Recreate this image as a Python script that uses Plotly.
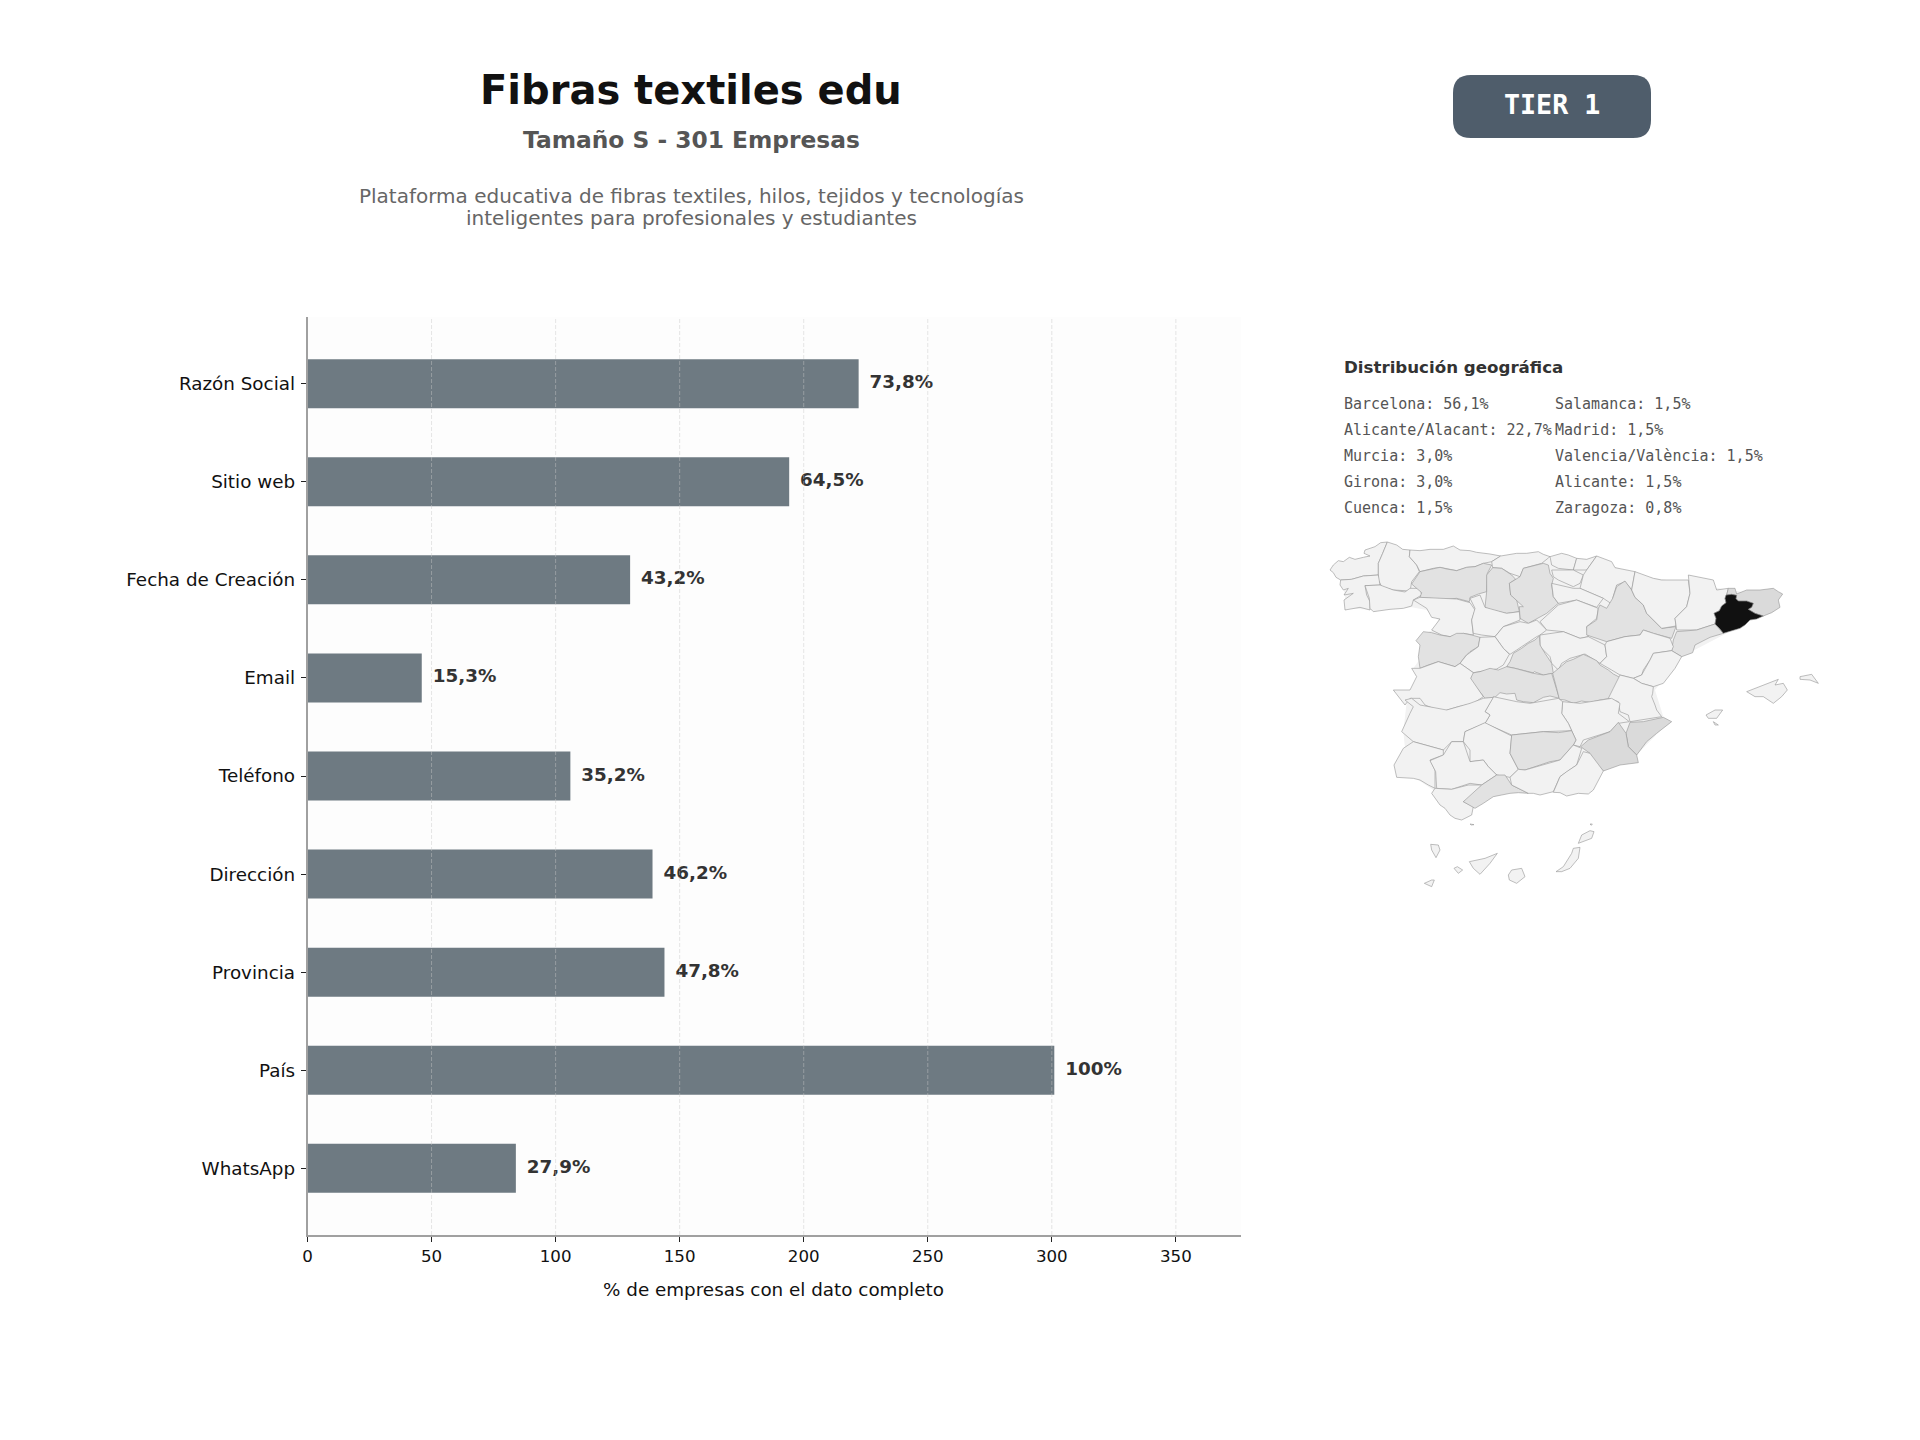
import plotly.graph_objects as go

# ---- Completeness data ----
TOTAL_COMPANIES = 301
fields = ["Razón Social", "Sitio web", "Fecha de Creación", "Email", "Teléfono",
          "Dirección", "Provincia", "País", "WhatsApp"]
completeness_pct = [73.8, 64.5, 43.2, 15.3, 35.2, 46.2, 47.8, 100, 27.9]
x_ticks = [0, 50, 100, 150, 200, 250, 300, 350]

# ---- Geographic distribution text ----
geo_left = ["Barcelona: 56,1%", "Alicante/Alacant: 22,7%", "Murcia: 3,0%", "Girona: 3,0%", "Cuenca: 1,5%"]
geo_right = ["Salamanca: 1,5%", "Madrid: 1,5%", "Valencia/València: 1,5%", "Alicante: 1,5%", "Zaragoza: 0,8%"]

# ---- Province outlines, digitised in four map sheets ----
# Each sheet has its own origin; three sheet units make one map unit.
sheet_origin = {"A": (1310, 520), "E": (1600, 520), "S": (1370, 690), "C": (1400, 620)}
LIGHT, MID, STRONG, DARK = "#f2f2f2", "#e2e2e2", "#dadada", "#111111"

# Flat silhouette of the peninsula that closes small gaps between provinces
mainland = [(240,85),(300,100),(570,115),(860,118),(975,165),(1135,190),(1390,230),(1385,265),(1240,345),(1115,410),
            (1035,510),(1060,590),(1075,607),(980,705),(880,753),(835,815),(655,812),(550,825),(495,860),(455,890),
            (395,848),(370,810),(310,770),(265,768),(258,735),(285,685),(280,635),(290,545),(270,515),(305,510),
            (325,470),(310,445),(335,410),(335,375),(345,340),(370,330),(385,300),(350,270),(305,262),(190,270),
            (110,265),(98,185),(70,150),(110,128)]

provinces = [
    ("A Coruña", "A", LIGHT, [(232,66),(212,68),(195,80),(165,90),(162,100),(180,108),(160,112),(135,118),(118,112),(100,125),(85,122),(70,135),(60,150),(70,158),(78,172),(92,180),(125,178),(160,168),(205,165),(205,130),(218,100)]),
    ("Lugo", "A", LIGHT, [(232,66),(260,75),(278,88),(300,90),(298,110),(320,135),(328,155),(305,185),(300,215),(285,212),(250,210),(215,200),(205,180),(205,130),(218,100)]),
    ("Pontevedra", "A", LIGHT, [(92,180),(125,178),(160,168),(205,165),(210,195),(165,197),(170,225),(180,245),(180,270),(150,262),(105,270),(102,240),(130,220),(102,225),(115,205),(100,210),(90,195)]),
    ("Ourense", "A", LIGHT, [(165,197),(210,195),(250,210),(285,216),(300,205),(330,205),(335,225),(310,240),(305,258),(280,265),(240,268),(190,275),(180,265),(178,235)]),
    ("Asturias", "A", LIGHT, [(300,90),(330,92),(360,88),(400,88),(430,78),(450,90),(480,92),(500,97),(540,102),(572,108),(545,125),(520,130),(495,140),(470,142),(440,152),(410,147),(390,142),(370,145),(350,150),(330,155),(320,135),(298,110)]),
    ("León", "A", MID, [(330,155),(350,150),(370,145),(390,142),(410,147),(440,152),(470,142),(495,140),(520,130),(545,135),(532,160),(530,190),(530,215),(505,222),(480,232),(478,245),(440,235),(400,238),(355,233),(330,232),(335,218),(320,205),(305,192)]),
    ("Cantabria", "A", LIGHT, [(572,108),(600,102),(620,100),(650,100),(685,95),(700,103),(720,110),(695,130),(640,145),(630,170),(600,160),(575,145),(548,143),(545,125)]),
    ("Palencia", "A", MID, [(548,143),(575,145),(605,165),(617,178),(598,190),(602,225),(620,240),(628,275),(590,280),(545,270),(525,262),(530,215),(530,165)]),
    ("Burgos", "A", MID, [(640,145),(700,130),(715,135),(720,160),(730,175),(725,195),(730,230),(745,250),(710,280),(670,300),(655,310),(630,295),(628,260),(640,260),(620,240),(602,225),(598,190),(617,178),(630,170)]),
    ("Bizkaia", "A", LIGHT, [(720,110),(740,103),(755,100),(775,105),(800,115),(790,150),(745,145),(725,135)]),
    ("Gipuzkoa", "A", LIGHT, [(800,115),(830,118),(860,108),(830,150),(790,150)]),
    ("Álava", "A", LIGHT, [(725,150),(790,150),(820,165),(810,190),(790,200),(745,180),(730,170)]),
    ("Navarra", "A", LIGHT, [(860,108),(905,125),(915,143),(975,155),(965,210),(945,185),(920,195),(908,235),(925,265),(880,235),(810,205),(820,165),(830,150)]),
    ("La Rioja", "A", LIGHT, [(725,190),(790,205),(810,205),(880,235),(860,262),(800,240),(745,250),(730,230)]),
    ("Zamora", "A", LIGHT, [(310,240),(350,265),(365,292),(390,297),(365,330),(395,345),(420,350),(460,340),(490,345),(485,300),(495,270),(480,248),(440,237),(390,235),(330,232)]),
    ("Valladolid", "A", LIGHT, [(480,235),(510,225),(525,262),(590,280),(628,275),(630,300),(580,320),(555,350),(515,345),(490,340),(485,300),(495,265)]),
    ("Segovia", "A", LIGHT, [(630,305),(655,310),(680,300),(710,330),(690,345),(680,350),(620,390),(600,403),(580,385),(555,350),(580,320)]),
    ("Soria", "A", LIGHT, [(690,305),(745,255),(800,240),(865,265),(860,295),(830,320),(835,350),(810,355),(760,335),(710,330)]),
    ("Salamanca", "A", MID, [(340,335),(365,338),(390,345),(420,350),(440,340),(460,340),(485,345),(510,352),(505,380),(480,395),(465,410),(450,430),(435,440),(410,432),(385,425),(355,435),(330,445),(325,410),(330,375),(318,362)]),
    ("Ávila", "A", LIGHT, [(510,352),(555,350),(580,385),(598,403),(580,435),(560,447),(490,458),(450,430),(470,405),(505,380)]),
    ("Guadalajara", "A", LIGHT, [(690,345),(760,335),(810,355),(835,350),(885,375),(890,410),(870,430),(825,402),(780,415),(755,430),(745,450),(725,430),(720,410),(690,380)]),
    ("Madrid", "C", MID, [(418,48),(420,75),(435,100),(455,130),(460,160),(430,165),(403,155),(375,182),(398,158),(345,145),(320,140),(330,125),(340,100),(365,85),(385,70),(405,60)]),
    ("Toledo", "C", MID, [(212,160),(240,155),(270,145),(295,150),(320,140),(345,145),(400,160),(430,165),(455,160),(465,195),(478,235),(450,228),(430,232),(400,248),(370,245),(350,240),(345,220),(320,222),(300,218),(285,232),(255,235),(235,210),(212,180)]),
    ("Cuenca", "C", MID, [(458,160),(470,150),(490,135),(500,125),(520,118),(550,103),(570,112),(590,122),(600,135),(625,150),(640,162),(665,175),(650,200),(632,235),(600,240),(570,247),(545,243),(520,250),(495,240),(478,238),(470,205)]),
    ("Cáceres", "A", LIGHT, [(305,445),(330,445),(385,425),(435,440),(450,430),(490,458),(482,475),(520,530),(490,550),(445,560),(395,575),(345,555),(330,535),(300,535),(285,555),(250,510),(300,510),(320,470)]),
    ("Zaragoza", "E", MID, [(0,255),(20,265),(38,235),(50,200),(75,183),(95,210),(105,232),(130,255),(140,280),(185,325),(228,320),(215,355),(160,340),(130,330),(120,345),(75,350),(20,365),(-40,345),(-40,320),(-10,300),(-5,265)]),
    ("Huesca", "E", LIGHT, [(105,155),(160,175),(185,180),(265,180),(270,220),(260,260),(225,295),(228,318),(185,325),(140,280),(130,255),(105,232),(95,210)]),
    ("Lleida", "E", LIGHT, [(265,165),(340,180),(350,210),(385,205),(380,225),(375,235),(378,248),(365,258),(358,272),(342,280),(348,295),(345,312),(290,330),(230,330),(225,295),(260,260),(270,220)]),
    ("Tarragona", "E", MID, [(230,335),(290,330),(345,312),(358,325),(370,340),(330,352),(285,375),(278,398),(245,410),(215,392),(220,360)]),
    ("Girona", "E", STRONG, [(385,205),(405,205),(410,222),(440,210),(480,210),(520,205),(535,215),(548,222),(535,240),(540,262),(515,278),(490,288),(465,280),(445,268),(455,262),(460,250),(440,243),(415,243),(408,236),(410,226),(395,223),(380,225)]),
    ("Teruel", "E", LIGHT, [(20,365),(75,350),(120,345),(130,330),(160,340),(210,355),(220,380),(215,392),(160,400),(150,420),(130,450),(125,465),(100,475),(60,465),(35,450),(0,430),(20,410),(15,375)]),
    ("Castellón", "E", LIGHT, [(215,392),(245,410),(225,445),(190,490),(160,500),(125,490),(100,475),(125,465),(150,420),(160,400)]),
    ("Valencia", "E", LIGHT, [(60,465),(100,475),(125,490),(160,500),(158,520),(155,530),(165,555),(170,570),(185,590),(125,600),(90,605),(85,585),(60,575),(55,545),(25,535),(40,505)]),
    ("Mallorca", "E", LIGHT, [(440,515),(480,500),(535,478),(525,495),(550,490),(562,510),(545,530),(520,550),(490,530),(465,530)]),
    ("Menorca", "E", LIGHT, [(600,470),(635,463),(655,490),(630,480),(600,478)]),
    ("Ibiza", "E", LIGHT, [(318,585),(345,570),(368,570),(350,595),(325,595)]),
    ("Formentera", "E", LIGHT, [(340,605),(355,615),(345,615)]),
    ("Albacete", "S", LIGHT, [(578,35),(630,40),(725,25),(750,40),(745,70),(778,95),(745,100),(720,125),(640,150),(630,170),(610,165),(618,150),(605,122),(595,100),(575,70)]),
    ("Alicante", "S", STRONG, [(780,97),(820,95),(880,82),(905,95),(860,130),(830,155),(800,195),(775,170),(768,130)]),
    ("Murcia", "S", STRONG, [(745,97),(768,130),(775,170),(800,195),(805,218),(750,225),(700,243),(670,210),(660,190),(632,170),(655,150),(720,125)]),
    ("Ciudad Real", "S", LIGHT, [(345,100),(360,75),(345,65),(370,20),(440,35),(480,40),(565,25),(578,35),(575,70),(595,100),(605,122),(520,125),(425,135)]),
    ("Badajoz", "S", LIGHT, [(105,30),(125,25),(150,45),(230,60),(300,40),(340,25),(370,22),(345,65),(360,75),(345,100),(285,125),(280,155),(245,155),(220,180),(130,155),(95,125),(120,70),(130,50)]),
    ("Córdoba", "S", LIGHT, [(285,125),(345,98),(425,138),(420,190),(445,238),(420,262),(380,255),(355,230),(340,210),(300,215),(300,180),(280,155)]),
    ("Jaén", "S", MID, [(425,135),(470,130),(520,125),(565,128),(605,122),(618,150),(610,165),(570,210),(540,215),(510,225),(465,240),(445,238),(420,190)]),
    ("Huelva", "S", LIGHT, [(130,155),(220,180),(220,195),(180,210),(195,240),(195,295),(175,285),(150,270),(130,265),(100,264),(80,262),(72,225),(85,200),(100,175)]),
    ("Sevilla", "S", LIGHT, [(180,212),(220,195),(245,155),(280,155),(300,215),(340,210),(355,230),(380,255),(335,285),(300,280),(245,298),(200,295),(197,245)]),
    ("Cádiz", "S", LIGHT, [(195,295),(245,298),(295,285),(335,285),(305,325),(280,335),(310,350),(305,375),(275,390),(255,385),(240,375),(225,355),(210,345),(200,330),(185,310)]),
    ("Málaga", "S", MID, [(280,335),(335,285),(380,255),(405,255),(425,285),(475,310),(445,308),(420,310),(395,315),(370,320),(340,340),(315,355)]),
    ("Granada", "S", LIGHT, [(420,262),(445,238),(465,240),(570,210),(610,165),(635,175),(620,225),(590,245),(570,260),(550,305),(530,310),(510,315),(490,310),(475,310),(425,285)]),
    ("Almería", "S", LIGHT, [(640,185),(660,190),(700,243),(685,270),(670,300),(655,312),(625,310),(590,318),(570,308),(550,307),(570,260),(590,245),(620,225)]),
    ("La Palma", "S", LIGHT, [(182,463),(205,465),(210,480),(198,503),(185,480)]),
    ("Tenerife", "S", LIGHT, [(298,515),(345,505),(382,490),(360,520),(330,553),(310,535)]),
    ("La Gomera", "S", LIGHT, [(252,535),(262,530),(278,540),(265,550)]),
    ("El Hierro", "S", LIGHT, [(163,580),(185,570),(193,570),(185,590)]),
    ("Gran Canaria", "S", LIGHT, [(425,540),(455,535),(465,560),(440,580),(418,570),(415,555)]),
    ("Fuerteventura", "S", LIGHT, [(630,472),(625,505),(600,535),(575,545),(558,545),(580,530),(605,490),(610,475)]),
    ("Lanzarote", "S", LIGHT, [(625,460),(635,435),(660,422),(672,425),(665,445),(640,455)]),
    ("Alegranza", "S", LIGHT, [(660,402),(667,402),(664,406)]),
    ("Alborán", "S", LIGHT, [(300,402),(312,404),(304,405)]),
    ("Barcelona", "E", DARK, [(378,225),(395,223),(410,226),(408,236),(415,243),(440,243),(460,250),(455,262),(445,268),(465,280),(490,288),(470,297),(450,300),(435,315),(420,325),(395,332),(370,340),(358,325),(345,312),(348,295),(342,280),(358,272),(365,258),(378,248),(375,235)]),
]

WIDTH, HEIGHT = 1920, 1440
AXIS_GRAY = "#a0a0a0"
LABEL_GAP = 4.4  # distance between a bar end and its value label, in companies


def px(x):
    return x / WIDTH


def py(y):
    return 1 - y / HEIGHT


fig = go.Figure()

# Completeness bars, scaled from percentage to number of companies
bar_values = [p * TOTAL_COMPANIES / 100 for p in completeness_pct]
bar_labels = ["100%" if p == 100 else f"{p:.1f}%".replace(".", ",") for p in completeness_pct]
fig.add_trace(go.Bar(
    y=fields, x=bar_values, orientation="h", width=0.5,
    marker=dict(color="#6e7a82", line=dict(width=0)),
    hoverinfo="skip", xaxis="x", yaxis="y",
))
fig.add_trace(go.Scatter(
    y=fields, x=[v + LABEL_GAP for v in bar_values], mode="text", text=bar_labels,
    textposition="middle right", cliponaxis=False,
    textfont=dict(family="DejaVu Sans", size=18.33, color="#333333", weight="bold"),
    hoverinfo="skip", xaxis="x", yaxis="y",
))


def sheet_xy(sheet, pts):
    ox, oy = sheet_origin[sheet]
    closed = list(pts) + [pts[0]]
    return [ox + a / 3 for a, _ in closed], [oy + b / 3 for _, b in closed]


# Province map on a white ground
land_x, land_y = sheet_xy("A", mainland)
fig.add_trace(go.Scatter(x=land_x, y=land_y, mode="lines", fill="toself", fillcolor=LIGHT,
                         line=dict(width=0), hoverinfo="skip", xaxis="x2", yaxis="y2"))
for name, sheet, fill, pts in provinces:
    xs, ys = sheet_xy(sheet, pts)
    fig.add_trace(go.Scatter(
        x=xs, y=ys, mode="lines", fill="toself", fillcolor=fill,
        line=dict(color="#939393", width=0.6), name=name,
        hoverinfo="skip", xaxis="x2", yaxis="y2",
    ))

# Faint panel behind the bars
shapes = [dict(type="rect", xref="paper", yref="paper", x0=px(307.5), x1=px(1241), y0=py(1235), y1=py(317),
               fillcolor="#fdfdfd", line=dict(width=0), layer="below")]

# Dashed vertical guides run over the bars
shapes += [dict(type="line", xref="x", yref="paper", x0=t, x1=t, y0=py(1235), y1=py(317),
                line=dict(color="rgba(200,200,200,0.45)", width=1, dash="4px,2px"), layer="above")
           for t in x_ticks[1:]]

# Tier badge with rounded corners
bx0, bx1, by0, by1, r = 1453, 1651, 75, 138, 18
badge = (f"M {px(bx0+r)} {py(by0)} L {px(bx1-r)} {py(by0)} Q {px(bx1)} {py(by0)} {px(bx1)} {py(by0+r)} "
         f"L {px(bx1)} {py(by1-r)} Q {px(bx1)} {py(by1)} {px(bx1-r)} {py(by1)} "
         f"L {px(bx0+r)} {py(by1)} Q {px(bx0)} {py(by1)} {px(bx0)} {py(by1-r)} "
         f"L {px(bx0)} {py(by0+r)} Q {px(bx0)} {py(by0)} {px(bx0+r)} {py(by0)} Z")
shapes.append(dict(type="path", xref="paper", yref="paper", path=badge,
                   fillcolor="#4f5d6b", line=dict(width=0), layer="above"))


def note(text, x, y, size, color, family="DejaVu Sans", bold=False, anchor="center"):
    return dict(text=text, xref="paper", yref="paper", x=px(x), y=py(y), xanchor=anchor, yanchor="middle",
                showarrow=False, align="center",
                font=dict(family=family, size=size, color=color, weight="bold" if bold else "normal"))


annotations = [
    note("Fibras textiles edu", 691, 90, 40, "#111111", bold=True),
    note("Tamaño S - 301 Empresas", 691, 140, 23.33, "#555555", bold=True),
    note("Plataforma educativa de fibras textiles, hilos, tejidos y tecnologías", 691, 196, 20, "#666666"),
    note("inteligentes para profesionales y estudiantes", 691, 218, 20, "#666666"),
    note("TIER 1", 1552, 105, 26.67, "#ffffff", family="DejaVu Sans Mono", bold=True),
    note("% de empresas con el dato completo", 773.5, 1289, 18.33, "#111111"),
    note("Distribución geográfica", 1342, 367.5, 16.67, "#333333", bold=True, anchor="left"),
]
row_y = [404, 430, 456, 482, 508]
for txt, y in zip(geo_left, row_y):
    annotations.append(note(txt, 1342, y, 15, "#555555", family="DejaVu Sans Mono", anchor="left"))
for txt, y in zip(geo_right, row_y):
    annotations.append(note(txt, 1553, y, 15, "#555555", family="DejaVu Sans Mono", anchor="left"))

fig.update_layout(
    width=WIDTH, height=HEIGHT, margin=dict(l=0, r=0, t=0, b=0, autoexpand=False),
    paper_bgcolor="#ffffff", plot_bgcolor="#ffffff", showlegend=False,
    shapes=shapes, annotations=annotations,
    font=dict(family="DejaVu Sans", color="#111111"),
    xaxis=dict(domain=[px(307.5), px(1241)], range=[0, 376.25], tickvals=x_ticks, showgrid=False, zeroline=False,
               showline=True, linecolor=AXIS_GRAY, linewidth=1.5, ticks="outside", ticklen=5, tickcolor="#222222",
               tickfont=dict(size=16.67, color="#111111"), anchor="y"),
    yaxis=dict(domain=[py(1235), py(317)], range=[8.68, -0.68], type="category", categoryorder="array",
               categoryarray=fields, showgrid=False, zeroline=False, showline=True, linecolor=AXIS_GRAY,
               linewidth=1.5, ticks="outside", ticklen=5, tickcolor="#222222", ticklabelstandoff=2,
               tickfont=dict(size=18.33, color="#111111"), anchor="x"),
    xaxis2=dict(domain=[px(1320), px(1830)], range=[1320, 1830], visible=False, anchor="y2"),
    yaxis2=dict(domain=[py(900), py(530)], range=[900, 530], visible=False, anchor="x2"),
)

fig.write_html("out.html")
